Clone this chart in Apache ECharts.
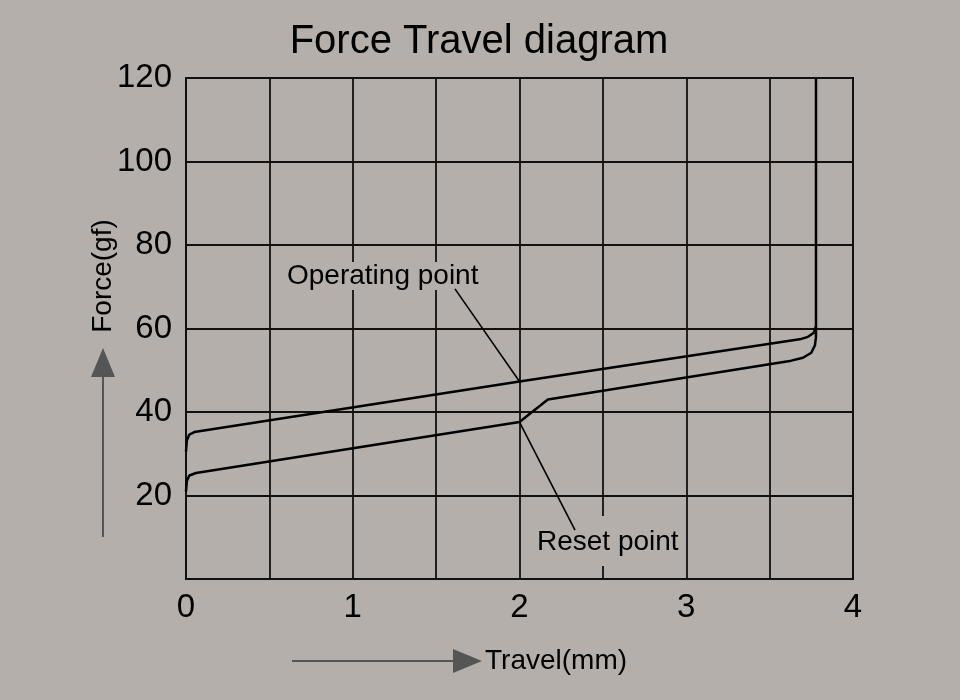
<!DOCTYPE html>
<html><head><meta charset="utf-8">
<script src="https://cdn.jsdelivr.net/npm/echarts@6/dist/echarts.min.js"></script>
<style>html,body{margin:0;padding:0;background:#b4afab}#c{width:960px;height:700px}</style>
</head><body><div id="c"></div>
<script>
const titleText = 'Force Travel diagram';
const xName = 'Travel(mm)';
const yName = 'Force(gf)';
// Operating (upper) curve: [travel mm, force gf]
const operatingCurve = [[0,30.5],[0.005,33.2],[0.02,34.6],[0.05,35.2],[2,47.3],[3.68,57.4],[3.73,58],[3.765,59],[3.778,60.5],[3.778,120]];
// Reset (lower) curve
const resetCurve = [[0,21],[0.005,23.5],[0.02,24.8],[0.06,25.4],[2,37.6],[2.17,43],[3.63,52.3],[3.7,53],[3.75,54.2],[3.772,56],[3.778,58],[3.778,60.5]];
// leader lines for annotations
const operatingLeader = [[1.613,69.5],[2,47.3]];
const resetLeader = [[2,37.6],[2.333,11.7]];
const annOperating = 'Operating point';
const annReset = 'Reset point';

const chart = echarts.init(document.getElementById('c'));
const ff = '"Liberation Sans", Arial, sans-serif';
const lineS = (data, w, z) => ({type:'line', data, symbol:'none', smooth:false, silent:true,
  lineStyle:{color:'#000', width:w}, z:z});
chart.setOption({
  backgroundColor:'#b4afab',
  animation:false,
  title:{text:titleText, left:474, top:17, textAlign:'center',
    textStyle:{fontFamily:ff, fontSize:40, fontWeight:'normal', color:'#000'}},
  grid:{left:186, right:107, top:78, bottom:121, show:true, borderColor:'#111', borderWidth:2},
  xAxis:{type:'value', min:0, max:4, interval:0.5,
    axisLine:{show:false}, axisTick:{show:false},
    splitLine:{show:true, lineStyle:{color:'#111', width:1.8}},
    axisLabel:{margin:12, fontFamily:ff, fontSize:33, color:'#000',
      formatter:v => Number.isInteger(v) ? String(v) : ''}},
  yAxis:{type:'value', min:0, max:120, interval:20,
    axisLine:{show:false}, axisTick:{show:false},
    splitLine:{show:true, lineStyle:{color:'#111', width:1.8}},
    axisLabel:{margin:14, fontFamily:ff, fontSize:33, color:'#000',
      formatter:v => v === 0 ? '' : String(v)}},
  series:[
    lineS(operatingCurve, 2.5, 5),
    lineS(resetCurve, 2.5, 5),
    lineS(operatingLeader, 1.6, 20),
    lineS(resetLeader, 1.6, 20)
  ],
  graphic:[
    {type:'text', left:284, top:262, z:10, style:{text:annOperating, font:'28px '+ff, fill:'#000',
      backgroundColor:'#b4afab', padding:[0,3,0,3]}},
    {type:'text', left:534, top:516, z:10, style:{text:annReset, font:'28px '+ff, fill:'#000',
      backgroundColor:'#b4afab', padding:[12,3,10,3]}},
    {type:'text', x:103, y:276, rotation:Math.PI/2, z:10, style:{text:yName, font:'28px '+ff, fill:'#000',
      align:'center', verticalAlign:'middle'}},
    {type:'text', left:485, top:647, z:10, style:{text:xName, font:'28px '+ff, fill:'#000'}},
    {type:'line', z:10, shape:{x1:103, y1:537, x2:103, y2:372}, style:{stroke:'#555', lineWidth:2}},
    {type:'polygon', z:10, shape:{points:[[103,348],[91,377],[115,377]]}, style:{fill:'#555'}},
    {type:'line', z:10, shape:{x1:292, y1:661, x2:458, y2:661}, style:{stroke:'#555', lineWidth:2}},
    {type:'polygon', z:10, shape:{points:[[482,661],[453,649],[453,673]]}, style:{fill:'#555'}}
  ]
});
</script></body></html>
